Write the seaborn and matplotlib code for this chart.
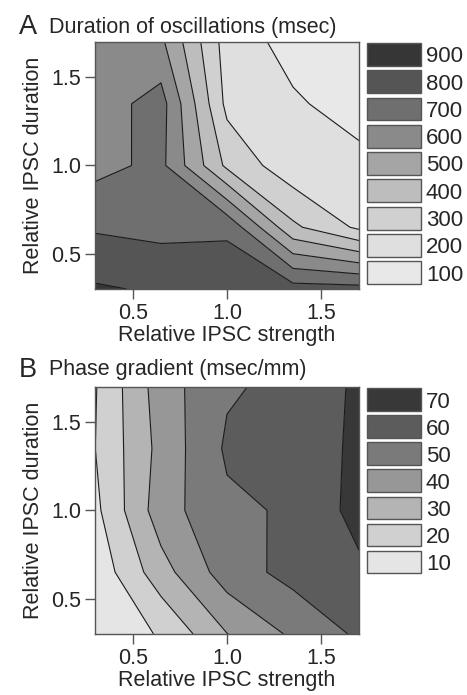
import numpy as np
import matplotlib
matplotlib.use("Agg")
import matplotlib.pyplot as plt
from matplotlib.patches import Rectangle
import seaborn as sns

# ---------------- data ----------------
strength = [0.3, 0.65, 1.0, 1.35, 1.7]   # relative IPSC strength (x)
duration = [0.3, 0.65, 1.0, 1.35, 1.7]   # relative IPSC duration (y)

# rows: IPSC duration from low to high; columns: IPSC strength from low to high
osc_duration = [
    [912, 887, 871, 840, 835],
    [788, 769, 780, 420, 281],
    [669, 725, 378, 234, 227],
    [649, 741, 273, 213, 160],
    [640, 620, 255, 165, 120],
]
phase_gradient = [
    [14.5, 20.7, 39.8, 51.7, 61.7],
    [13.0, 36.0, 55.0, 63.3, 68.1],
    [17.5, 45.5, 58.0, 61.3, 73.5],
    [19.9, 43.2, 61.5, 64.0, 72.0],
    [19.3, 45.1, 58.8, 62.7, 71.8],
]
levels_a = [100, 200, 300, 400, 500, 600, 700, 800, 900]
levels_b = [10, 20, 30, 40, 50, 60, 70]
ticks = [0.5, 1.0, 1.5]
tick_labels = ["0.5", "1.0", "1.5"]

title_a = "Duration of oscillations (msec)"
title_b = "Phase gradient (msec/mm)"
xlabel = "Relative IPSC strength"
ylabel = "Relative IPSC duration"

# grey shades, lightest (lowest level) to darkest
greys_a = ["#e8e8e8", "#dfdfdf", "#d0d0d0", "#bdbdbd", "#a5a5a5",
           "#8a8a8a", "#6f6f6f", "#555555", "#363636"]
greys_b = ["#e5e5e5", "#d0d0d0", "#b4b4b4", "#979797", "#7a7a7a",
           "#5c5c5c", "#383838"]

# ---------------- style ----------------
sns.set_style("white")
plt.rcParams["font.family"] = ["Liberation Sans", "DejaVu Sans"]

W, H = 467, 695
fig = plt.figure(figsize=(W / 100, H / 100), dpi=100)
FS = 15.5
EDGE = "#555555"


def fx(px):
    return px / W


def fy(py):
    return 1 - py / H


def panel(ax_rect, z, levels, step, greys, leg_top, leg_pitch, leg_h):
    ax = fig.add_axes(ax_rect)
    X, Y = np.meshgrid(strength, duration)
    Z = np.array(z, dtype=float)
    pal = sns.color_palette(greys)
    bounds = list(levels) + [levels[-1] + step]
    ax.contourf(X, Y, Z, levels=bounds, colors=pal, antialiased=True)
    ax.contour(X, Y, Z, levels=levels[1:], colors="#1a1a1a", linewidths=0.8)
    ax.set_xlim(strength[0], strength[-1])
    ax.set_ylim(duration[0], duration[-1])
    ax.set_xticks(ticks)
    ax.set_xticklabels(tick_labels)
    ax.set_yticks(ticks)
    ax.set_yticklabels(tick_labels)
    ax.tick_params(direction="out", length=7, width=1, color=EDGE,
                   labelsize=FS, pad=3, bottom=True, left=True,
                   top=False, right=False)
    for s in ax.spines.values():
        s.set_color(EDGE)
        s.set_linewidth(1.0)
        s.set_visible(True)
    ax.set_xlabel(xlabel, fontsize=FS, labelpad=1)
    ax.set_ylabel(ylabel, fontsize=FS, labelpad=5)
    # legend of boxes
    n = len(levels)
    for k in range(n):
        idx = n - 1 - k
        top = leg_top + k * leg_pitch
        fig.add_artist(Rectangle((fx(367), fy(top + leg_h)), fx(421) - fx(367),
                                 leg_h / H, transform=fig.transFigure,
                                 facecolor=pal[idx], edgecolor=EDGE, lw=1.0))
        fig.text(fx(426), fy(top + leg_h / 2 + 7.9), str(levels[idx]),
                 fontsize=FS + 0.5, ha="left", va="baseline")
    return ax


panel([fx(95), fy(289), fx(359) - fx(95), 247 / H], osc_duration, levels_a,
      100, greys_a, 43, 27.3, 22.7)
panel([fx(95), fy(634), fx(359) - fx(95), 247.3 / H], phase_gradient, levels_b,
      10, greys_b, 388.3, 27.05, 22.6)

fig.text(fx(19), fy(34), "A", fontsize=19.5, va="baseline", ha="left")
fig.text(fx(49), fy(33.3), title_a, fontsize=FS, va="baseline", ha="left")
fig.text(fx(19), fy(377), "B", fontsize=19.5, va="baseline", ha="left")
fig.text(fx(49), fy(375.5), title_b, fontsize=FS, va="baseline", ha="left")

fig.savefig("out.png", dpi=100, facecolor="white")
